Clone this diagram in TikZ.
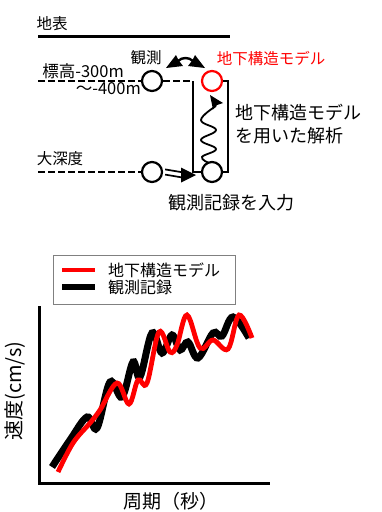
\documentclass[tikz,border=0pt]{standalone}
\usepackage{fontspec}
\setmainfont{Noto Sans CJK JP}
\usetikzlibrary{calc}

\begin{document}
\begin{tikzpicture}[x=1pt,y=-1pt,
    station/.style={circle,draw,line width=2.2pt,minimum size=20pt,inner sep=0pt},
    dashedline/.style={line width=2.4pt,dash pattern=on 6.5pt off 3.5pt},
    boxline/.style={line width=2.2pt},
    small/.style={font=\fontsize{15.5}{18}\selectfont,inner sep=0pt},
    large/.style={font=\fontsize{18}{23}\selectfont,inner sep=0pt}]

    \useasboundingbox (0,0) rectangle (382,512);

    \node [small] (surface) at (52,24) {地表};
    \draw [line width=3pt] (38,36) -- (230,36);

    \node [station] (obsA) at (152,81) {};
    \node [station,red] (modelA) at (212,81) {};
    \node [station] (deepA) at (152,172) {};
    \node [station] (deepB) at (212,172) {};

    \coordinate (leftA) at (38,81);
    \coordinate (leftB) at (38,172);
    \coordinate (boxTL) at (193,81);
    \coordinate (boxBL) at (193,172);
    \coordinate (boxTR) at (228,81);
    \coordinate (boxBR) at (228,172);

    \draw [dashedline] (leftA) -- (obsA);
    \draw [dashedline] (obsA) -- (boxTL);
    \draw [dashedline] (leftB) -- (deepA);
    \draw [boxline] (boxTL) -- (boxBL) -- (deepB);
    \draw [boxline] (modelA) -- (boxTR) -- (boxBR) -- (deepB);

    \coordinate (tipL) at ($(obsA.center)+(14,-13)$);
    \coordinate (tipR) at ($(modelA.center)+(-7,-13)$);
    \draw [line width=2.4pt] ($(tipL)+(12,-7)$) .. controls +(4,-4) and +(-4,-4) .. ($(tipR)+(-12,-7)$);
    \fill (tipL) -- ++(10,-13) -- ++(2.5,5) -- ++(4.5,6) -- cycle;
    \fill (tipR) -- ++(-10,-13) -- ++(-2.5,5) -- ++(-4.5,6) -- cycle;

    \coordinate (waveTip) at (210,95);
    \draw [line width=1.8pt] plot [smooth,tension=0.7] coordinates
        {(209,163) (202,157) (216,149) (201,140) (216,130) (201,120) (216,106)};
    \fill (waveTip) -- ++(13,8) -- ++(-6,2) -- ++(-4,4.5) -- cycle;

    \coordinate (arrtip) at (196,175);
    \draw [line width=1.7pt] ($(deepA.east)+(2,-2.6)$) -- ($(arrtip)+(-13,-2.6)$);
    \draw [line width=1.7pt] ($(deepA.east)+(2,2.6)$) -- ($(arrtip)+(-13,2.6)$);
    \fill ($(arrtip)+(-15,-7.5)$) -- (arrtip) -- ($(arrtip)+(-15,7.5)$) -- cycle;

    \node [small] (obsLabel) at (146,58) {観測};
    \node [small,red] (modelLabel) at (271,59) {地下構造モデル};
    \node [small,anchor=east,font=\fontsize{16.5}{18}\selectfont] (depthA) at (124,71) {標高-300m};
    \node [small,anchor=east,font=\fontsize{16.5}{18}\selectfont] (depthB) at (141,89) {～-400m};
    \node [small] (deepLabel) at (60,159) {大深度};
    \node [large,align=left,anchor=west] (analysis) at (235,124.5) {地下構造モデル\\を用いた解析};
    \node [large] (input) at (231,203) {観測記録を入力};

    \node [draw=gray,line width=0.8pt,minimum width=182pt,minimum height=49pt] (legend) at (144,279.5) {};
    \draw [red,line width=4pt] (62,270) -- (95,270);
    \draw [line width=6.5pt] (62,287) -- (95,287);
    \node [small,anchor=west,font=\fontsize{16}{19}\selectfont] (legModel) at (108,270) {地下構造モデル};
    \node [small,anchor=west,font=\fontsize{16}{19}\selectfont] (legObs) at (108,287) {観測記録};

    \coordinate (ytop) at (39,306);
    \coordinate (origin) at (39,483);
    \coordinate (xend) at (270,483);
    \draw [line width=3pt] (ytop) -- (origin) -- (xend);

    \draw [line width=7pt] plot [smooth,tension=0.6] coordinates
        {(52,467) (70,440) (87,417) (97,428) (110,382) (122,397) (133,362) (140,377) (152,333)
         (162,353) (172,335) (180,350) (188,342) (198,358) (213,333) (222,336) (233,317) (249,338)};
    \draw [red,line width=4.8pt] plot [smooth,tension=0.6] coordinates
        {(58,472) (73,443) (90,423) (100,410) (117,383) (129,404) (138,380) (147,383) (159,332)
         (170,352) (177,345) (187,315) (200,348) (213,340) (228,349) (239,315) (252,338)};

    \node [inner sep=0pt,rotate=90,font=\fontsize{20}{24}\selectfont] (ylab) at (15,391) {速度(cm/s)};
    \node [inner sep=0pt,font=\fontsize{19}{23}\selectfont] (xlab) at (171,501) {周期（秒）};

\end{tikzpicture}
\end{document}
